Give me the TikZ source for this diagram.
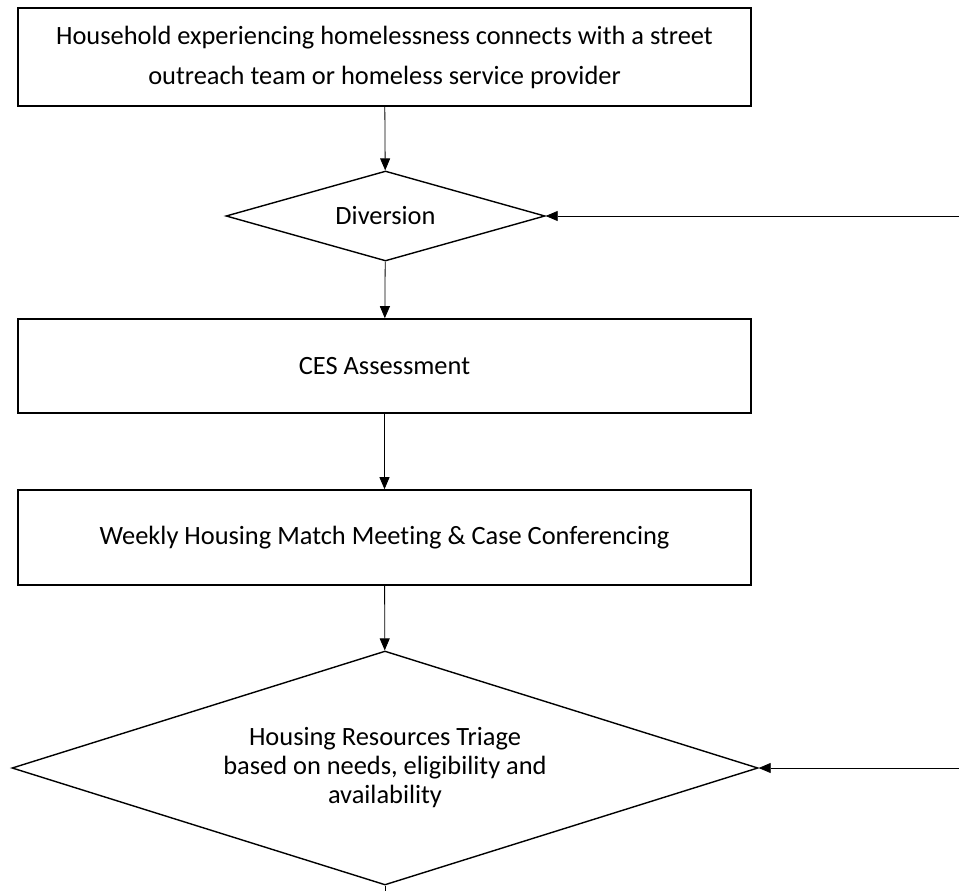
\documentclass[tikz,border=0pt]{standalone}
\usepackage{fontspec}
\setmainfont{Carlito}[RawFeature=-liga]
\usetikzlibrary{shapes.geometric,arrows.meta}
\begin{document}
\begin{tikzpicture}[x=1pt,y=-1pt,
  every node/.style={font=\fontsize{26.4}{39}\selectfont, align=center},
  procbox/.style={draw, line width=1.6pt, minimum width=733pt, inner sep=0pt},
  decision/.style={draw, diamond, line width=1.4pt, inner sep=0pt},
  conn/.style={line width=0.8pt, -{Triangle[length=12pt,width=10pt]}},
  plainline/.style={line width=0.8pt}]
\useasboundingbox (0,0) rectangle (959,891);
\node[procbox, minimum height=98pt] (start) at (384.5,57) {\raisebox{1pt}{Household experiencing homelessness connects with a street}\\outreach team or homeless service provider};
\node[decision, aspect=3.54, minimum width=319pt, minimum height=90pt] (div) at (385.5,216) {\raisebox{-2pt}{Diversion}};
\node[procbox, minimum height=94pt] (ces) at (384.5,366) {CES Assessment};
\node[procbox, minimum height=95pt] (week) at (384.5,537.5) {\raisebox{-3pt}{Weekly Housing Match Meeting \& Case Conferencing}};
\node[decision, aspect=3.19, minimum width=746pt, minimum height=234pt] (tri) at (385,768) {Housing Resources Triage\\[-10pt]based on needs, eligibility and\\[-10pt]availability};
\coordinate (r1) at (959,216);
\coordinate (r2) at (959,768);
\coordinate (bot) at (385,891);
\draw[conn] (start) -- (div);
\draw[conn] (div) -- (ces);
\draw[conn] (ces) -- (week);
\draw[conn] (week) -- (tri);
\draw[conn] (r1) -- (div.east);
\draw[conn] (r2) -- (tri.east);
\draw[plainline] (tri.south) -- (bot);
\end{tikzpicture}
\end{document}
